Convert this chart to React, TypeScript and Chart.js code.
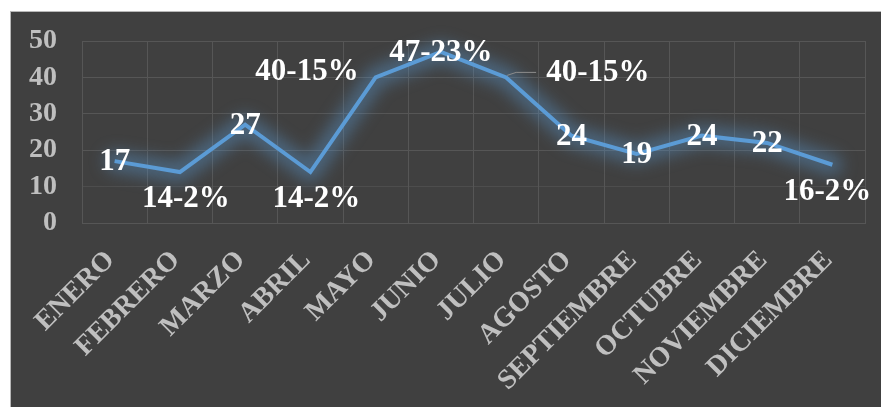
import React, { useEffect, useRef } from "react";
import { Chart, registerables } from "chart.js";

Chart.register(...registerables);

const months = [
  "ENERO", "FEBRERO", "MARZO", "ABRIL", "MAYO", "JUNIO",
  "JULIO", "AGOSTO", "SEPTIEMBRE", "OCTUBRE", "NOVIEMBRE", "DICIEMBRE",
];
const values = [17, 14, 27, 14, 40, 47, 40, 24, 19, 24, 22, 16];
const pointLabels = [
  "17", "14-2%", "27", "14-2%", "40-15%", "47-23%",
  "40-15%", "24", "19", "24", "22", "16-2%",
];
const labelPlacement = [
  "center", "below", "center", "below", "left", "center",
  "right", "center", "center", "center", "center", "below",
];
const yTicks = [0, 10, 20, 30, 40, 50];

const FONT = "'Liberation Serif', 'Times New Roman', serif";

const glowPlugin = {
  id: "glow",
  beforeDatasetsDraw(chart: any) {
    const ctx = chart.ctx;
    const pts = chart.getDatasetMeta(0).data;
    ctx.save();
    ctx.filter = "blur(8px)";
    ctx.strokeStyle = "rgba(91,155,213,0.42)";
    ctx.lineWidth = 20;
    ctx.lineJoin = "round";
    ctx.lineCap = "round";
    ctx.beginPath();
    pts.forEach((p: any, i: number) => {
      if (i === 0) ctx.moveTo(p.x, p.y);
      else ctx.lineTo(p.x, p.y);
    });
    ctx.stroke();
    ctx.restore();
  },
};

const labelPlugin = {
  id: "pointLabels",
  afterDatasetsDraw(chart: any) {
    const ctx = chart.ctx;
    const meta = chart.getDatasetMeta(0);
    ctx.save();
    ctx.font = `bold 31px ${FONT}`;
    ctx.fillStyle = "#ffffff";
    ctx.textBaseline = "middle";
    meta.data.forEach((pt: any, i: number) => {
      const text = pointLabels[i];
      const place = labelPlacement[i];
      const w = ctx.measureText(text).width;
      let x = pt.x;
      let y = pt.y;
      if (place === "center") {
        y = pt.y + 1;
      } else if (place === "below") {
        x = pt.x + (i === 11 ? -5 : 6);
        y = pt.y + 27;
      } else if (place === "left") {
        x = pt.x - 17 - w / 2;
        y = pt.y - 5;
      } else if (place === "right") {
        x = pt.x + 40 + w / 2;
        y = pt.y - 4;
        ctx.save();
        ctx.strokeStyle = "#8c8c8c";
        ctx.lineWidth = 1;
        ctx.beginPath();
        ctx.moveTo(pt.x + 1, pt.y - 2);
        ctx.lineTo(pt.x + 10, pt.y - 5);
        ctx.lineTo(pt.x + 30, pt.y - 5);
        ctx.stroke();
        ctx.restore();
      }
      ctx.textAlign = "center";
      ctx.fillText(text, x, y);
    });
    ctx.restore();
  },
};

export default function App() {
  const ref = useRef<HTMLCanvasElement | null>(null);

  useEffect(() => {
    if (!ref.current) return;
    const chart = new Chart(ref.current, {
      type: "line",
      data: {
        labels: months,
        datasets: [
          {
            data: values,
            borderColor: "#5B9BD5",
            borderWidth: 4,
            pointRadius: 0,
            tension: 0,
            fill: false,
          },
        ],
      },
      plugins: [glowPlugin, labelPlugin],
      options: {
        responsive: false,
        animation: false,
        layout: { padding: { top: 29, right: 16, left: 0, bottom: 0 } },
        plugins: {
          legend: { display: false },
          tooltip: { enabled: false },
        },
        scales: {
          x: {
            offset: true,
            grid: {
              offset: true,
              drawTicks: false,
              color: "#565656",
              lineWidth: 1,
            },
            border: { display: true, color: "#565656" },
            ticks: {
              minRotation: 45,
              maxRotation: 45,
              autoSkip: false,
              padding: 21,
              labelOffset: -4,
              color: "#bfbfbf",
              font: { family: FONT, size: 28, weight: "bold" },
            },
            afterFit(scale: any) {
              scale.height = 184;
              scale.paddingTop = 0;
              scale.paddingBottom = 0;
              scale.paddingLeft = 0;
              scale.paddingRight = 0;
            },
          },
          y: {
            min: 0,
            max: 50,
            afterBuildTicks(scale: any) {
              scale.ticks = yTicks.map((v) => ({ value: v }));
            },
            grid: {
              drawTicks: false,
              color: (c: any) =>
                c.tick && c.tick.value === 0
                  ? "rgba(86,86,86,0.25)"
                  : c.tick && c.tick.value === 10
                  ? "rgba(86,86,86,0.6)"
                  : "#565656",
            },
            border: { display: true, color: "#565656" },
            ticks: {
              autoSkip: false,
              padding: 25,
              color: "#bfbfbf",
              font: { family: FONT, size: 28, weight: "bold" },
            },
            afterFit(scale: any) {
              scale.width = 71;
              scale.paddingTop = 0;
              scale.paddingBottom = 0;
            },
          },
        },
      },
    });
    return () => chart.destroy();
  }, []);

  return (
    <div
      style={{
        position: "absolute",
        left: 10,
        top: 11,
        width: 871,
        height: 396,
        background: "#404040",
        borderLeft: "1px solid #b8b8b8",
        borderTop: "1px solid #b8b8b8",
        boxSizing: "border-box",
      }}
    >
      <canvas ref={ref} width={870} height={395} style={{ display: "block" }} />
    </div>
  );
}
